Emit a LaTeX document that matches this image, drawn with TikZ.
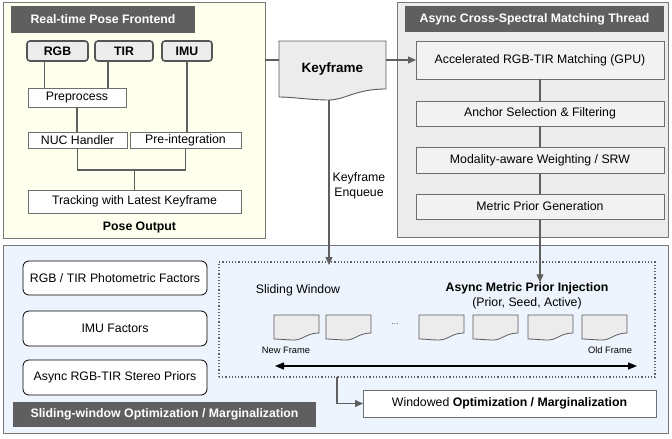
\documentclass[tikz,border=0pt]{standalone}
\usepackage{fontspec}
\setmainfont{Liberation Sans}
\usetikzlibrary{positioning,arrows.meta}

\begin{document}
\begin{tikzpicture}[x=1pt,y=-1pt,
  every node/.append style={font=\fontsize{12.3}{15}\selectfont, inner sep=0pt, outer sep=0pt},
  panel/.style={draw=panelLine, line width=1pt},
  titlebar/.style={fill=titleFill, text=white, font=\fontsize{12.3}{15}\selectfont\bfseries},
  sensor/.style={draw=sensorLine, fill=sensorFill, line width=1.6pt, rounded corners=3pt, font=\fontsize{12.3}{15}\selectfont\bfseries},
  stepbox/.style={draw=boxLine, fill=white, line width=0.8pt},
  grabox/.style={draw=boxLine, fill=stepFill, line width=0.8pt},
  factor/.style={draw=black, fill=white, line width=0.8pt, rounded corners=6pt},
  docline/.style={draw=docLine, fill=docFill, line width=0.8pt},
  link/.style={draw=linkColor, line width=1.1pt},
  flow/.style={link, -{Triangle[length=8pt,width=7pt]}}]
\definecolor{panelLine}{RGB}{120,120,120}
\definecolor{titleFill}{RGB}{95,95,95}
\definecolor{sensorLine}{RGB}{85,85,85}
\definecolor{sensorFill}{RGB}{236,236,236}
\definecolor{boxLine}{RGB}{110,110,110}
\definecolor{stepFill}{RGB}{242,242,242}
\definecolor{docLine}{RGB}{90,90,90}
\definecolor{docFill}{RGB}{236,236,236}
\definecolor{linkColor}{RGB}{95,95,95}
\definecolor{feFill}{RGB}{255,255,238}
\definecolor{amFill}{RGB}{236,236,236}
\definecolor{swFill}{RGB}{238,244,253}
\path[use as bounding box] (0,0) rectangle (672,439);

% frontend
\node[panel, fill=feFill, minimum width=262, minimum height=236] (fe) at (134,120) {};
\node[titlebar, minimum width=184, minimum height=27] (fetitle) at (103,19.5) {Real-time Pose Frontend};
\node[sensor, minimum width=61, minimum height=20] (rgb) at (57.5,51) {RGB};
\node[sensor, minimum width=58, minimum height=20] (tir) at (124,51) {TIR};
\node[sensor, minimum width=50, minimum height=20] (imu) at (187,51) {IMU};
\node[stepbox, minimum width=98, minimum height=19] (prep) at (77,97.5) {Preprocess};
\node[stepbox, minimum width=99, minimum height=16] (nuc) at (77.5,140) {NUC Handler};
\node[stepbox, minimum width=111, minimum height=16] (pre) at (185.5,140) {Pre-integration};
\node[stepbox, minimum width=213, minimum height=23] (trk) at (134.5,201.5) {Tracking with Latest Keyframe};
\node[font=\fontsize{12.3}{15}\selectfont\bfseries] (pose) at (139.5,227) {Pose Output};
\coordinate (mg) at (134.5,170);

\draw[link] ([xshift=-13pt]rgb.south) -- ([xshift=-13pt]rgb.south |- prep.north);
\draw[link] ([xshift=-16pt]tir.south) -- ([xshift=-16pt]tir.south |- prep.north);
\draw[link] (imu.south) -- (imu.south |- pre.north);
\draw[link] (prep.south) -- (prep.south |- nuc.north);
\draw[link] (nuc.south) |- (pre.south |- mg) -- (pre.south);
\draw[link] (mg) -- (trk.north);

% matching thread
\node[panel, fill=amFill, minimum width=271, minimum height=235] (am) at (532.5,119.5) {};
\node[titlebar, minimum width=259, minimum height=26] (amtitle) at (534.5,19) {Async Cross-Spectral Matching Thread};
\node[grabox, minimum width=248, minimum height=38] (acc) at (540,60) {Accelerated RGB-TIR Matching (GPU)};
\node[grabox, minimum width=248, minimum height=25] (anc) at (540,113.5) {Anchor Selection \& Filtering};
\node[grabox, minimum width=248, minimum height=26] (mod) at (540,160) {Modality-aware Weighting / SRW};
\node[grabox, minimum width=248, minimum height=25] (met) at (540,206.5) {Metric Prior Generation};

\draw[link] (acc) -- (anc);
\draw[link] (anc) -- (mod);
\draw[link] (mod) -- (met);

% keyframe
\node[minimum width=107, minimum height=56] (kf) at (332.5,69) {};
\path[docline, line width=0.9pt] (kf.north west) -- (kf.north east) -- ([yshift=8pt]kf.south east)
  .. controls +(-31,0) and +(16,0) .. ([xshift=-3.5pt,yshift=-3pt]kf.south)
  .. controls +(-19,0) and +(14,0) .. (kf.south west) -- cycle;
\node[font=\fontsize{13.5}{16}\selectfont\bfseries] (kflabel) at (kf) {Keyframe};
\draw[link] (fe.east |- acc) -- (kf.west |- acc);
\draw[flow] (kf.east |- acc) -- (acc.west);

% sliding window
\node[panel, fill=swFill, minimum width=665, minimum height=188] (sw) at (335.5,339) {};
\node[titlebar, minimum width=303, minimum height=25] (swtitle) at (164.5,414.5) {Sliding-window Optimization / Marginalization};
\node[factor, minimum width=184, minimum height=34] (phf) at (115,278) {RGB / TIR Photometric Factors};
\node[factor, minimum width=184, minimum height=35] (imf) at (115,328.5) {IMU Factors};
\node[factor, minimum width=184, minimum height=35] (stf) at (115,377.5) {Async RGB-TIR Stereo Priors};
\node[draw=linkColor, line width=1.2pt, dotted, minimum width=436, minimum height=115] (win) at (437,319.5) {};
\node (slide) at (298,290) {Sliding Window};
\node[align=center] (inj) at (527,295.5) {\textbf{Async Metric Prior Injection}\\(Prior, Seed, Active)};
\foreach \x [count=\i] in {296.5,348.5,441.5,495.5,550.5,604.5} {
  \node[minimum width=45, minimum height=24] (fr\i) at (\x,327) {};
  \path[docline] (fr\i.north west) -- (fr\i.north east) -- ([yshift=6pt]fr\i.south east)
    .. controls +(-12,0) and +(8,0) .. ([xshift=-2pt,yshift=-1pt]fr\i.south)
    .. controls +(-8,0) and +(6,0) .. (fr\i.south west) -- cycle;
}
\node[text=linkColor, font=\fontsize{9}{11}\selectfont] (dots) at (395,324) {...};
\node[font=\fontsize{9.3}{11}\selectfont] (newfr) at (286,350) {New Frame};
\node[font=\fontsize{9.3}{11}\selectfont] (oldfr) at (610,350) {Old Frame};
\coordinate (la) at (275,366);
\coordinate (ra) at (637,366);
\draw[line width=1.3pt, {Triangle[length=9pt,width=7pt]}-{Triangle[length=9pt,width=7pt]}] (la) -- (ra);
\node[stepbox, minimum width=293, minimum height=27] (wop) at (509.5,403.5) {Windowed \textbf{Optimization / Marginalization}};
\coordinate (wo) at (337,377);

% connectors
\draw[flow] ([xshift=-3.5pt,yshift=-3pt]kf.south) -- ([xshift=-3.5pt,yshift=-3pt]kf.south |- win.north);
\node[align=center] (enq) at (359,186) {Keyframe\\Enqueue};
\draw[flow] (met.south) -- (met.south |- inj.north);
\draw[flow] (wo) |- (wop.west);
\end{tikzpicture}
\end{document}
